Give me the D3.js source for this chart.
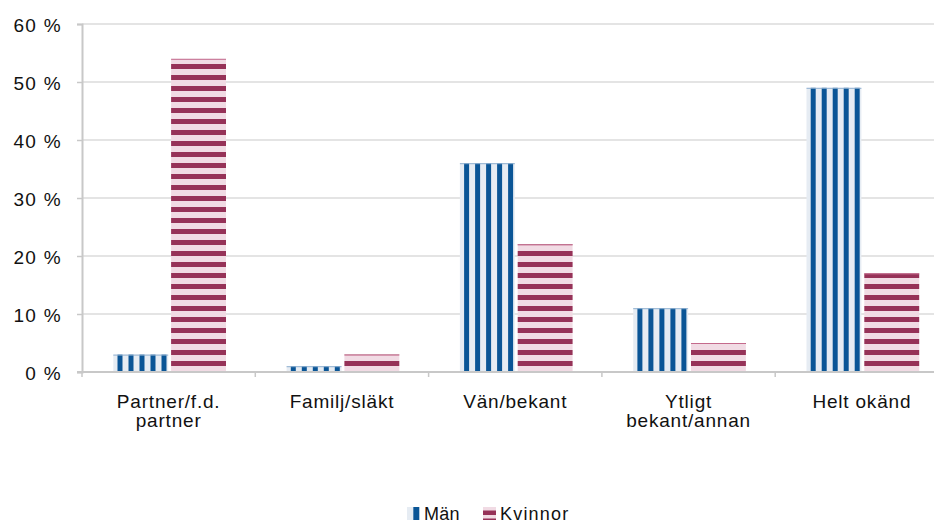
<!DOCTYPE html>
<html>
<head>
<meta charset="utf-8">
<script src="https://cdn.jsdelivr.net/npm/d3@7/dist/d3.min.js"></script>
<style>
  html, body { margin: 0; padding: 0; background: #ffffff; }
  svg { display: block; }
  text { font-family: "Liberation Sans", Arial, sans-serif; fill: #111; }
</style>
</head>
<body>
<svg id="chart" width="934" height="524"></svg>
<script>
const categories = [["Partner/f.d.", "partner"], ["Familj/släkt"], ["Vän/bekant"], ["Ytligt", "bekant/annan"], ["Helt okänd"]];
const seriesNames = ["Män", "Kvinnor"];
const manValues = [3, 1, 36, 11, 49];
const kvinnorValues = [54, 3, 22, 5, 17];
const yTicks = [0, 10, 20, 30, 40, 50, 60];

(function () {
const svg = d3.select("#chart");
const W = 934, H = 524;
const mLeft = 82, mRight = 948.5, mTop = 24, mBottom = 372;

const x0 = d3.scaleBand().domain(d3.range(categories.length)).range([mLeft, mRight]).paddingInner(0).paddingOuter(0);
const x1 = d3.scaleBand().domain(seriesNames).range([31.3, 144]).paddingInner(0.05).paddingOuter(0);
const y = d3.scaleLinear().domain([0, 60]).range([mBottom, mTop]);

const defs = svg.append("defs");
// vertical stripes (Män)
const pm = defs.append("pattern").attr("id", "pMan").attr("patternUnits", "userSpaceOnUse")
  .attr("x", 2.5).attr("y", 0).attr("width", 11).attr("height", 20);
pm.append("rect").attr("width", 11).attr("height", 20).attr("fill", "#e6ecf3");
pm.append("rect").attr("x", 0).attr("width", 5).attr("height", 20).attr("fill", "#0a5596");
// horizontal stripes (Kvinnor)
const pk = defs.append("pattern").attr("id", "pKv").attr("patternUnits", "userSpaceOnUse")
  .attr("x", 0).attr("y", 64 % 11).attr("width", 20).attr("height", 11);
pk.append("rect").attr("width", 20).attr("height", 11).attr("fill", "#f1dbe4");
pk.append("rect").attr("y", 0).attr("width", 20).attr("height", 5).attr("fill", "#963258");

// gridlines
svg.append("g").selectAll("line").data(yTicks.filter(d => d > 0)).join("line")
  .attr("x1", mLeft).attr("x2", W).attr("y1", d => y(d)).attr("y2", d => y(d))
  .attr("stroke", "#e4e4e4").attr("stroke-width", 2);

// bars
const data = categories.map((c, i) => ({ i, values: [{ s: "Män", v: manValues[i] }, { s: "Kvinnor", v: kvinnorValues[i] }] }));
const g = svg.append("g").selectAll("g").data(data).join("g")
  .attr("transform", d => `translate(${x0(d.i)},0)`);
g.selectAll("rect.bar").data(d => d.values).join("rect").attr("class", "bar")
  .attr("x", d => x1(d.s)).attr("width", x1.bandwidth())
  .attr("y", d => y(d.v)).attr("height", d => y(0) - y(d.v))
  .attr("fill", d => d.s === "Män" ? "url(#pMan)" : "url(#pKv)");
// top edges
g.selectAll("line.edge").data(d => d.values).join("line").attr("class", "edge")
  .attr("x1", d => x1(d.s)).attr("x2", d => x1(d.s) + x1.bandwidth())
  .attr("y1", d => y(d.v) + 0.5).attr("y2", d => y(d.v) + 0.5)
  .attr("stroke", d => d.s === "Män" ? "#8fb0d0" : "#c46a8c").attr("stroke-width", 1);

// y axis
const yAxis = d3.axisLeft(y).tickValues(yTicks).tickSize(5).tickFormat(d => d + " %");
const ya = svg.append("g").attr("transform", `translate(${mLeft},0)`).call(yAxis);
ya.select(".domain").attr("stroke", "#c8c8c8").attr("stroke-width", 2);
ya.selectAll(".tick line").attr("stroke", "#c8c8c8").attr("stroke-width", 1.5);
ya.selectAll(".tick text").attr("x", -20).attr("dy", "0.4em")
  .style("font-size", "19px").style("letter-spacing", "1.3px").style("font-family", "Liberation Sans, Arial, sans-serif").attr("fill", "#111");

// x axis
const xa = svg.append("g");
xa.append("line").attr("x1", mLeft - 5).attr("x2", W).attr("y1", mBottom).attr("y2", mBottom)
  .attr("stroke", "#c8c8c8").attr("stroke-width", 2);
xa.selectAll("line.tk").data(d3.range(categories.length + 1)).join("line").attr("class", "tk")
  .attr("x1", d => mLeft + d * x0.bandwidth()).attr("x2", d => mLeft + d * x0.bandwidth())
  .attr("y1", mBottom).attr("y2", mBottom + 5).attr("stroke", "#c8c8c8").attr("stroke-width", 1.5);
const lbl = xa.selectAll("text").data(categories).join("text")
  .attr("text-anchor", "middle")
  .attr("transform", (d, i) => `translate(${x0(i) + x0.bandwidth() / 2},${408})`)
  .style("font-size", "19px").style("letter-spacing", "0.8px");
lbl.selectAll("tspan").data(d => d).join("tspan")
  .attr("x", 0).attr("y", (d, i) => i * 19).text(d => d);

// legend
const legend = svg.append("g");
const ly = 507;
const lp = defs.append("pattern").attr("id", "lKv").attr("patternUnits", "userSpaceOnUse")
  .attr("x", 0).attr("y", ly).attr("width", 20).attr("height", 8);
lp.append("rect").attr("width", 20).attr("height", 8).attr("fill", "#f1dbe4");
lp.append("rect").attr("y", 3.5).attr("width", 20).attr("height", 4.5).attr("fill", "#963258");
const legItems = [{ s: "Män", x: 407, tx: 424, ls: 0.3 }, { s: "Kvinnor", x: 483, tx: 500, ls: 1.2 }];
legItems.forEach(it => {
  if (it.s === "Män") {
    legend.append("rect").attr("x", it.x).attr("y", ly).attr("width", 6.3).attr("height", 13).attr("fill", "#e6ecf3");
    legend.append("rect").attr("x", it.x + 6.3).attr("y", ly).attr("width", 6).attr("height", 13).attr("fill", "#0a5596");
  } else {
    legend.append("rect").attr("x", it.x).attr("y", ly).attr("width", 13).attr("height", 13).attr("fill", "url(#lKv)");
  }
  legend.append("text").attr("x", it.tx).attr("y", ly + 13).text(it.s)
    .style("font-size", "18px").style("letter-spacing", it.ls + "px");
});
})();
</script>
</body>
</html>
